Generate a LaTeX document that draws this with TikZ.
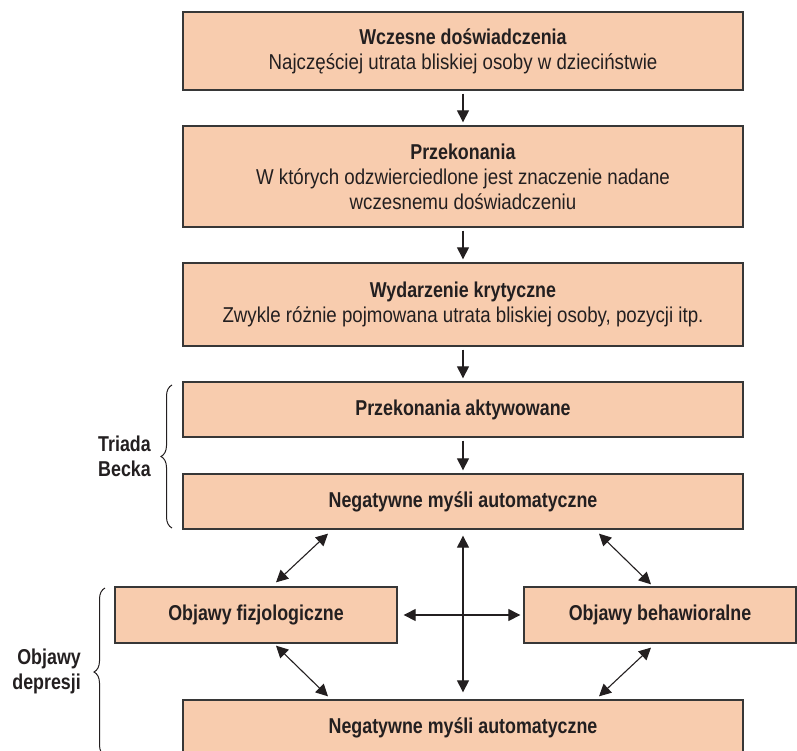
\documentclass[tikz,border=0pt]{standalone}
\usepackage{fontspec}
\setmainfont{Liberation Sans}[FakeStretch=0.87, BoldFeatures={FakeStretch=0.83}]
\usetikzlibrary{arrows.meta,decorations.pathreplacing}
\definecolor{boxfill}{RGB}{248,204,174}
\definecolor{boxline}{RGB}{55,55,55}
\definecolor{ink}{RGB}{35,31,32}
\begin{document}
\begin{tikzpicture}[x=1pt,y=-1pt,
  box/.style={draw=boxline, fill=boxfill, line width=1.3pt, inner sep=0pt, align=center,
    font=\fontsize{21.5}{25}\selectfont, text=ink},
  lbl/.style={font=\fontsize{21.5}{25}\selectfont\bfseries, text=ink, inner sep=0pt},
  arr/.style={draw=ink, line width=1.1pt, -{Triangle[length=12pt,width=12pt]}},
  darr/.style={draw=ink, line width=1.1pt, {Triangle[length=12pt,width=12pt]}-{Triangle[length=12pt,width=12pt]}},
  brc/.style={draw=ink, line width=1pt, decorate, decoration={brace, amplitude=11pt}}]
\useasboundingbox (0,0) rectangle (797,751);
\begin{scope}
\clip (0,0) rectangle (797,751);
\node[box, minimum width=560pt, minimum height=78pt] (B1) at (463,51)
  {\textbf{Wczesne doświadczenia}\\Najczęściej utrata bliskiej osoby w dzieciństwie};
\node[box, minimum width=560pt, minimum height=101pt] (B2) at (463,176.5)
  {\textbf{Przekonania}\\W których odzwierciedlone jest znaczenie nadane\\wczesnemu doświadczeniu};
\node[box, minimum width=560pt, minimum height=83pt] (B3) at (463,304.5)
  {\textbf{Wydarzenie krytyczne}\\Zwykle różnie pojmowana utrata bliskiej osoby, pozycji itp.};
\node[box, minimum width=560pt, minimum height=55pt] (B4) at (463,409.5)
  {\textbf{Przekonania aktywowane}};
\node[box, minimum width=560pt, minimum height=55pt] (B5) at (463,501.5)
  {\textbf{Negatywne myśli automatyczne}};
\node[box, minimum width=282pt, minimum height=56pt] (B6) at (256,615)
  {\textbf{Objawy fizjologiczne}};
\node[box, minimum width=272pt, minimum height=56pt] (B7) at (660,615)
  {\textbf{Objawy behawioralne}};
\node[box, minimum width=560pt, minimum height=56pt] (B8) at (463,728)
  {\textbf{Negatywne myśli automatyczne}};

\draw[arr, shorten <=3pt, shorten >=3pt] (B1) -- (B2);
\draw[arr, shorten <=3pt, shorten >=3pt] (B2) -- (B3);
\draw[arr, shorten <=3pt, shorten >=3pt] (B3) -- (B4);
\draw[arr, shorten <=3pt, shorten >=3pt] (B4) -- (B5);

\draw[darr] ([xshift=-135pt,yshift=-4pt]B5.south) -- ([xshift=20pt,yshift=4pt]B6.north);
\draw[darr] ([xshift=136pt,yshift=-4pt]B5.south) -- ([xshift=-9pt,yshift=2pt]B7.north);
\draw[darr] ([xshift=20pt,yshift=-2pt]B6.south) -- ([xshift=-135pt,yshift=3pt]B8.north);
\draw[darr] ([xshift=-9pt,yshift=-4pt]B7.south) -- ([xshift=136pt,yshift=3pt]B8.north);
\draw[darr] ([yshift=-6pt]B5.south) -- ([yshift=7pt]B8.north);
\draw[darr] ([xshift=6pt]B6.east) -- ([xshift=-3pt]B7.west);

\coordinate (tb1) at (172,528);
\coordinate (tb2) at (172,385);
\draw[brc] (tb1) -- (tb2);
\node[lbl, anchor=east, align=right] (TB) at (151,456) {Triada\\Becka};
\coordinate (od1) at (105,756);
\coordinate (od2) at (105,588);
\draw[brc] (od1) -- (od2);
\node[lbl, anchor=east, align=right] (OD) at (81,671) {Objawy\\depresji};
\end{scope}
\end{tikzpicture}
\end{document}
